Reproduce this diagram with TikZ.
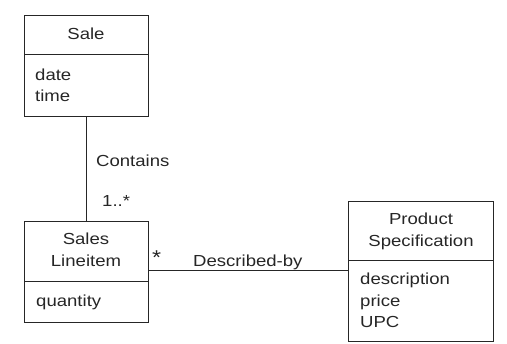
\documentclass[tikz,border=0pt]{standalone}
\usepackage{fontspec}
\setmainfont[FakeStretch=1.16]{Liberation Sans}
\begin{document}
\begin{tikzpicture}[x=1pt,y=-1pt,
  font=\fontsize{16}{21}\selectfont,
  every node/.style={text=black!85},
  classbox/.style={draw=black!85, line width=1pt, inner sep=0pt, anchor=north west},
  txt/.style={anchor=base west, inner sep=0pt},
  ctxt/.style={anchor=base, inner sep=0pt},
  link/.style={draw=black!85, line width=1pt}]
\useasboundingbox (0,0) rectangle (507,344);
% boxes
\node[classbox, minimum width=124pt, minimum height=101pt] (sale) at (24,15) {};
\node[classbox, minimum width=124pt, minimum height=101pt] (li) at (24,221) {};
\node[classbox, minimum width=145pt, minimum height=140pt] (ps) at (348,201) {};
% dividers
\draw[link] (sale.west |- 0,55) -- (sale.east |- 0,55);
\draw[link] (li.west |- 0,282) -- (li.east |- 0,282);
\draw[link] (ps.west |- 0,261) -- (ps.east |- 0,261);
% texts
\node[ctxt] (saleName) at (86,40) {Sale};
\node[txt] (saleA1) at (35,81) {date};
\node[txt] (saleA2) at (35,102) {time};
\node[ctxt] (liName1) at (86,245) {Sales};
\node[ctxt] (liName2) at (86,267) {Lineitem};
\node[txt] (liA1) at (36,307) {quantity};
\node[ctxt] (psName1) at (421,225) {Product};
\node[ctxt] (psName2) at (421,247) {Specification};
\node[txt] (psA1) at (360,285) {description};
\node[txt] (psA2) at (360,307) {price};
\node[txt] (psA3) at (360,328) {UPC};
% connectors
\coordinate (hl) at (0,271);
\draw[link] (sale.south) -- (li.north);
\draw[link] (li.east |- hl) -- (ps.west |- hl);
% labels
\node[txt] (contains) at (96,167) {Contains};
\node[txt] (mult1) at (102,207) {1..*};
\node[txt, font=\fontsize{20}{21}\selectfont] (mult2) at (152,265) {*};
\node[txt] (descr) at (193,267) {Described-by};
\end{tikzpicture}
\end{document}
